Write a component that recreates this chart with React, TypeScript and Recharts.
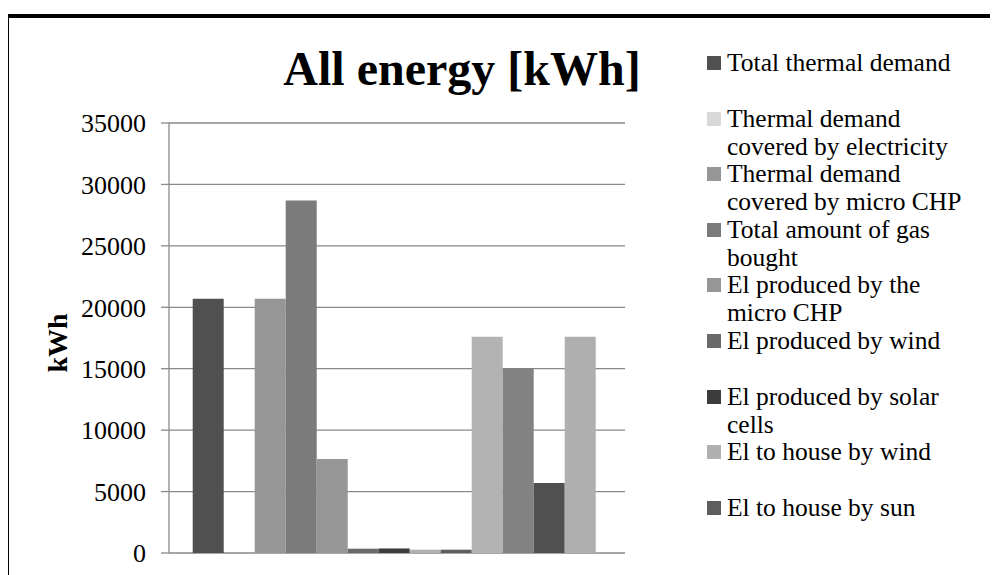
import { Bar, BarChart, CartesianGrid, Legend, XAxis, YAxis } from "recharts";

const seriesNames = [
  "Total thermal demand",
  "Thermal demand covered by electricity",
  "Thermal demand covered by micro CHP",
  "Total amount of gas bought",
  "El produced by the micro CHP",
  "El produced by wind",
  "El produced by solar cells",
  "El to house by wind",
  "El to house by sun",
  "El sold to the grid",
  "El bought from the grid",
  "El used by the heat pump",
  "Total el demand",
];
const seriesValues = [20700, 0, 20700, 28700, 7650, 350, 370, 270, 270, 17600, 15050, 5700, 17600];
const COLORS = [
  "#505050", "#d9d9d9", "#969696", "#7b7b7b", "#969696", "#6a6a6a", "#3c3c3c",
  "#b0b0b0", "#5e5e5e", "#b3b3b3", "#828282", "#505050", "#afafaf",
];
const yTicks = [0, 5000, 10000, 15000, 20000, 25000, 30000, 35000];
const LEGEND_COUNT = 9;

const row: Record<string, string | number> = { name: "All energy" };
seriesNames.forEach((n, i) => {
  row[`s${i}`] = seriesValues[i];
});
const data = [row];

const FONT = "'Liberation Serif', 'Times New Roman', serif";
const LEGEND_W = 280;

const LegendBox = () => (
  <div style={{ position: "relative", width: LEGEND_W, height: 520, fontFamily: FONT }}>
    {seriesNames.slice(0, LEGEND_COUNT).map((n, i) => (
      <div
        key={n}
        style={{ position: "absolute", left: 0, top: 41 + 55.6 * i, width: LEGEND_W }}
      >
        <div
          style={{
            position: "absolute",
            left: 0,
            top: 7,
            width: 14,
            height: 14,
            background: COLORS[i],
          }}
        />
        <div
          style={{
            marginLeft: 20,
            width: 252,
            fontSize: 25.5,
            lineHeight: "28px",
            color: "#000",
            textAlign: "left",
          }}
        >
          {n}
        </div>
      </div>
    ))}
  </div>
);

export default function App() {
  return (
    <div style={{ position: "relative", width: 990, height: 567, overflow: "hidden", background: "#fff" }}>
      <div
        style={{
          position: "absolute",
          left: -3,
          top: 6,
          width: 1100,
          height: 700,
          border: "4px solid #000",
        }}
      />
      <div
        style={{
          position: "absolute",
          left: 254,
          width: 400,
          top: 37,
          textAlign: "center",
          fontFamily: FONT,
          fontWeight: "bold",
          fontSize: 48,
          lineHeight: "48px",
        }}
      >
        All energy [kWh]
      </div>
      <div style={{ position: "absolute", left: 0, top: 0 }}>
        <BarChart
          width={990}
          height={567}
          data={data}
          margin={{ top: 115, right: 373 - LEGEND_W, bottom: 22, left: 0 }}
          barCategoryGap="5.2%"
          barGap={0}
        >
          <CartesianGrid vertical={false} stroke="#8a8a8a" strokeWidth={1.3} />
          <XAxis dataKey="name" hide />
          <YAxis
            width={161}
            domain={[0, 35000]}
            ticks={yTicks}
            interval={0}
            tickSize={8}
            tickMargin={15}
            axisLine={{ stroke: "#8a8a8a", strokeWidth: 1.3 }}
            tickLine={{ stroke: "#8a8a8a", strokeWidth: 1.3 }}
            tick={{ fill: "#000", fontSize: 26, fontFamily: FONT }}
            label={{
              content: () => (
                <text
                  x={59}
                  y={335}
                  transform="rotate(-90 59 335)"
                  textAnchor="middle"
                  fontFamily={FONT}
                  fontWeight="bold"
                  fontSize={28}
                  fill="#000"
                >
                  kWh
                </text>
              ),
            }}
          />
          <Legend
            layout="horizontal"
            verticalAlign="middle"
            align="right"
            wrapperStyle={{ left: 699, top: 0, width: LEGEND_W, height: 520 }}
            content={() => <LegendBox />}
          />
          {seriesNames.map((n, i) => (
            <Bar
              key={n}
              dataKey={`s${i}`}
              name={n}
              fill={COLORS[i]}
              legendType={i < LEGEND_COUNT ? "rect" : "none"}
              isAnimationActive={false}
            />
          ))}
        </BarChart>
      </div>
    </div>
  );
}
